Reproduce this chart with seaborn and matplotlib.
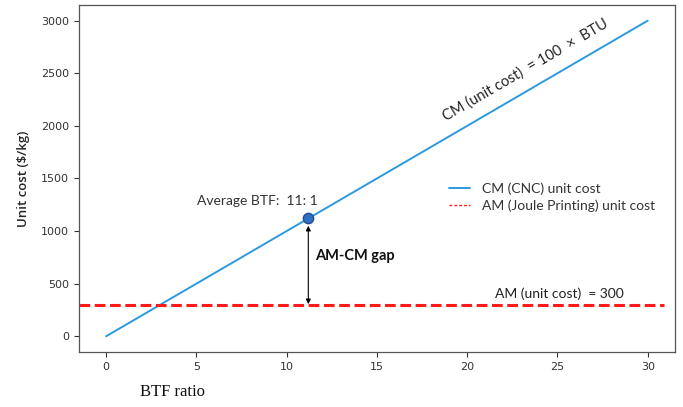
import numpy as np
import pandas as pd
import matplotlib
matplotlib.use("Agg")
import matplotlib.pyplot as plt
import seaborn as sns

# Data
btf_ratio = [0, 30]
cm_unit_cost = [0, 3000]
am_unit_cost = 300
avg_btf = 11.2
avg_cost = 1120
xticks = [0, 5, 10, 15, 20, 25, 30]
yticks = [0, 500, 1000, 1500, 2000, 2500, 3000]

sns.set_style("ticks")
plt.rcParams['font.family'] = ['DejaVu Sans']

fig = plt.figure(figsize=(6.83, 4.07), dpi=100)
ax = fig.add_axes([0.1157, 0.135, 0.8723, 0.853])

df = pd.DataFrame({"x": btf_ratio, "y": cm_unit_cost})
sns.lineplot(data=df, x="x", y="y", ax=ax, color="#2b9ae0", linewidth=1.4,
             label="CM (CNC) unit cost")
ax.plot([-1.5, 30.9], [am_unit_cost, am_unit_cost], color="#ff1a1a",
        linewidth=2.2, linestyle=(0, (3.5, 1.5)), label="_nolegend_")
# legend proxy for AM
ax.plot([], [], color="#ff1a1a", linewidth=1.0, linestyle=(0, (2, 1.5)),
        label="AM (Joule Printing) unit cost")

pt = pd.DataFrame({"x": [avg_btf], "y": [avg_cost]})
sns.scatterplot(data=pt, x="x", y="y", ax=ax, s=55, color="#2f6fc4",
                edgecolor="#1d4f94", linewidth=1.0, zorder=5, legend=False)

ax.annotate("", xy=(avg_btf, avg_cost - 70), xytext=(avg_btf, am_unit_cost + 5),
            arrowprops=dict(arrowstyle="<|-|>", color="black", lw=0.8,
                            mutation_scale=7, shrinkA=0, shrinkB=0))

ax.set_xlim(-1.5, 31.5)
ax.set_ylim(-150, 3150)
ax.set_xticks(xticks)
ax.set_yticks(yticks)
ax.tick_params(labelsize=8, colors="#333333", length=3.5)
for s in ax.spines.values():
    s.set_color("#555555")
    s.set_linewidth(0.9)

ax.set_xlabel("")
ax.set_ylabel("Unit cost ($/kg)", fontsize=9.5, fontweight="semibold",
              fontfamily="Open Sans", labelpad=8)

tf = dict(fontfamily="Lato", color="#222222")
ax.text(23.2, 2530, "CM (unit cost)  = 100  \u00d7  BTU", rotation=30.2,
        ha="center", va="center", fontsize=10.5, rotation_mode="anchor", **tf)
ax.text(8.4, 1290, "Average BTF:  11: 1", ha="center", va="center",
        fontsize=10, color="#333333", fontfamily="Lato")
ax.text(11.6, 760, "AM-CM gap", ha="left", va="center", fontsize=10.5,
        fontweight="bold", fontfamily="Lato", color="#111111")
ax.text(25.1, 400, "AM (unit cost)  = 300", ha="center", va="center",
        fontsize=10, color="#222222", fontfamily="Lato")

leg = ax.legend(loc="upper left", bbox_to_anchor=(0.6, 0.525), frameon=False,
                prop=dict(family="Lato", size=10), handlelength=1.5,
                labelspacing=0.3, handletextpad=0.9)
for t in leg.get_texts():
    t.set_color("#333333")

fig.text(0.205, 0.028, "BTF ratio", fontfamily="Liberation Serif", fontsize=12,
         color="#111111")

fig.savefig("out.png", dpi=100)
